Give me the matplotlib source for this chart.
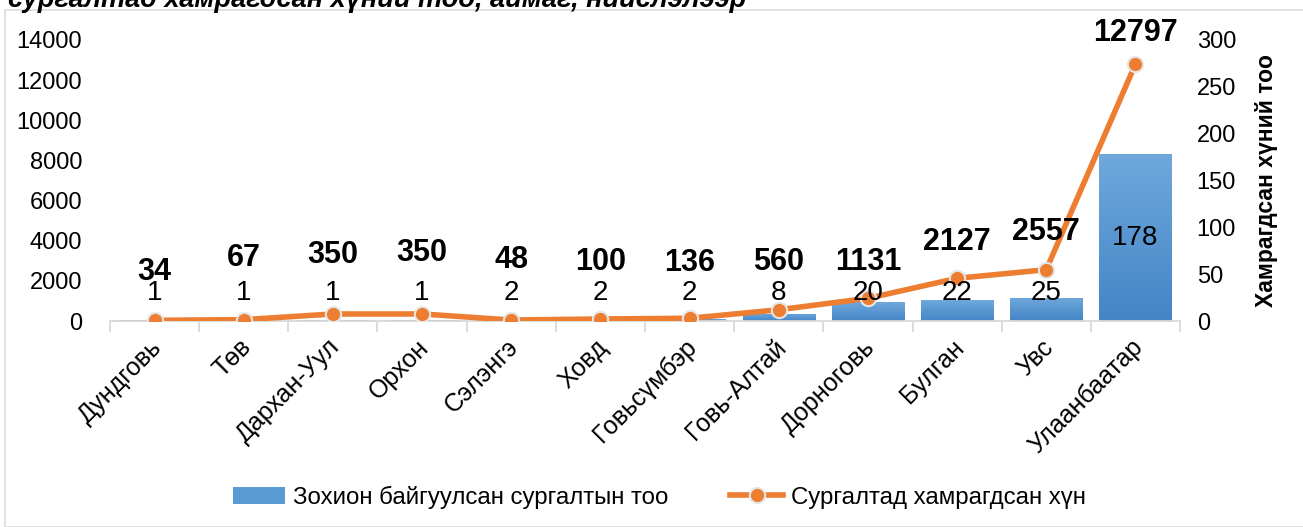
import numpy as np
import matplotlib
matplotlib.use("Agg")
import matplotlib.pyplot as plt
import matplotlib.transforms as mtransforms
from matplotlib.patches import Rectangle
from matplotlib.lines import Line2D
from matplotlib.patches import Patch

plt.rcParams['font.family'] = ['Liberation Sans', 'DejaVu Sans']

# data
regions = ['Дундговь', 'Төв', 'Дархан-Уул', 'Орхон', 'Сэлэнгэ', 'Ховд',
           'Говьсүмбэр', 'Говь-Алтай', 'Дорноговь', 'Булган', 'Увс', 'Улаанбаатар']
trainings = [1, 1, 1, 1, 2, 2, 2, 8, 20, 22, 25, 178]
people = [34, 67, 350, 350, 48, 100, 136, 560, 1131, 2127, 2557, 12797]

bar_name = 'Зохион байгуулсан сургалтын тоо'
line_name = 'Сургалтад хамрагдсан хүн'
right_label = 'Хамрагдсан хүний тоо'
title = 'сургалтад хамрагдсан хүний тоо, аймаг, нийслэлээр'

# label lift above the line points, in pixels (styling only)
label_lift = [48, 62, 59, 61, 60, 57, 55, 48, 36, 36, 38, 31]

orange = '#ED7D31'
grid_gray = '#D9D9D9'

W, H = 1303, 527
fig = plt.figure(figsize=(W / 100, H / 100), dpi=100)

# chart frame
fig.patches.append(Rectangle((5 / W, 0), 1.2, 1 - 10 / H, transform=fig.transFigure,
                             fill=False, edgecolor='#DADDE3', linewidth=1.2))

# title, mostly cut off by the top edge as in the source
fig.text(8 / W, 1 - 7 / H, title, fontsize=19.5, style='italic', fontweight='bold',
         va='baseline', ha='left')

ax_bar = fig.add_axes([110 / W, 1 - 321 / H, (1180 - 110) / W, (321 - 40) / H])
ax_line = ax_bar.twinx()

x = np.arange(len(regions))
bars = ax_bar.bar(x, trainings, width=0.81, color='#5B9BD5', zorder=1)

# vertical gradient for each bar
grad = np.linspace(0, 1, 256).reshape(-1, 1)
cmap = matplotlib.colors.LinearSegmentedColormap.from_list('bg', ['#4485C7', '#6FA8DC'])
for b in bars:
    x0, y0 = b.get_x(), b.get_y()
    im = ax_bar.imshow(grad, extent=(x0, x0 + b.get_width(), y0, y0 + b.get_height()),
                       origin='lower', cmap=cmap, aspect='auto', zorder=1)
    im.set_clip_path(b)

ax_bar.set_xlim(-0.5, len(regions) - 0.5)
ax_bar.set_ylim(0, 300)
ax_line.set_ylim(0, 14000)

ax_line.plot(x, people, color=orange, linewidth=4, marker='o', markersize=11,
             markerfacecolor=orange, markeredgecolor='#E6E6E6', markeredgewidth=1.5,
             solid_capstyle='round', zorder=3)

# axes sides: bars on right scale, line on left scale
ax_bar.yaxis.tick_right()
ax_line.yaxis.tick_left()
ax_bar.set_yticks(range(0, 301, 50))
ax_line.set_yticks(range(0, 14001, 2000))
for a in (ax_bar, ax_line):
    for s in a.spines.values():
        s.set_visible(False)
    a.tick_params(axis='y', length=0, labelsize=17)
ax_bar.tick_params(axis='y', pad=12)
ax_line.tick_params(axis='y', pad=20)
ax_bar.spines['bottom'].set_visible(True)
ax_bar.spines['bottom'].set_color(grid_gray)
ax_bar.spines['bottom'].set_linewidth(1.3)

ax_bar.set_xticks(x)
ax_bar.set_xticks(np.arange(-0.5, len(regions), 1), minor=True)
ax_bar.tick_params(axis='x', which='major', length=0, pad=10)
ax_bar.tick_params(axis='x', which='minor', length=8, color=grid_gray, width=1.3)
ax_line.tick_params(axis='x', which='both', length=0, labelbottom=False)
ax_bar.set_xticklabels(regions, rotation=45, ha='right', va='top',
                       rotation_mode='anchor', fontsize=18)
shift = mtransforms.ScaledTranslation(-5 / 100, 0, fig.dpi_scale_trans)
for lbl in ax_bar.get_xticklabels():
    lbl.set_transform(lbl.get_transform() + shift)

ax_bar.set_ylabel(right_label, fontsize=16.5, fontweight='bold', labelpad=14)
ax_bar.yaxis.set_label_position('right')

# bar value labels
for xi, v in zip(x, trainings):
    ax_line.text(xi, max(30, v / 2), str(v), transform=ax_bar.transData,
                 ha='center', va='center', fontsize=20, zorder=5)

# line value labels
for xi, v, lift in zip(x, people, label_lift):
    ax_line.annotate(str(v), (xi, v), xytext=(0, lift * 0.72), textcoords='offset points',
                     ha='center', va='center', fontsize=22, fontweight='bold', zorder=5)

handles = [Patch(facecolor='#5B9BD5', edgecolor='none'),
           Line2D([0], [0], color=orange, linewidth=4, marker='o', markersize=11,
                  markerfacecolor=orange, markeredgecolor='#E6E6E6', markeredgewidth=1.5)]
fig.legend(handles, [bar_name, line_name], loc='center', ncol=2,
           bbox_to_anchor=(659 / W, 1 - 497 / H), frameon=False, fontsize=17.3,
           handlelength=2.2, handletextpad=0.3, columnspacing=2.6)

fig.savefig('out.png', dpi=100)
